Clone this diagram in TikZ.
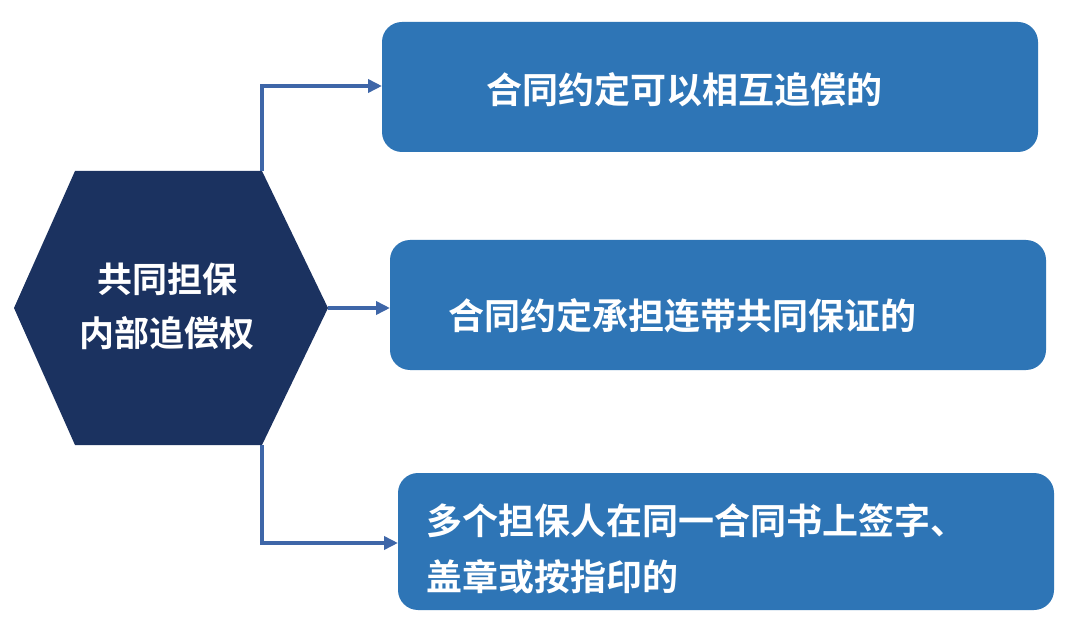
\documentclass[tikz,border=0pt]{standalone}
\usepackage{fontspec}
\newfontfamily\cjk[BoldFont={Noto Sans CJK SC Bold}]{Noto Sans CJK SC}
\usetikzlibrary{arrows.meta}
\definecolor{navy}{HTML}{1B3260}
\definecolor{boxb}{HTML}{2E75B6}
\definecolor{linec}{HTML}{3E66A8}
\begin{document}
\begin{tikzpicture}[x=1pt,y=-1pt,
  box/.style={fill=boxb,rounded corners=20pt,draw=none},
  txt/.style={text=white,font=\cjk\bfseries\fontsize{36}{56}\selectfont,anchor=west,align=left,inner sep=0pt},
  conn/.style={draw=linec,line width=3.5pt,-{Triangle[length=14pt,width=13pt]}}]
\useasboundingbox (0,0) rectangle (1080,631);
\fill[white] (0,0) rectangle (1080,631);
\fill[navy] (14,308) -- (75,171) -- (262,171) -- (328,308) -- (262,445) -- (75,445) -- cycle;
\coordinate (ht) at (262,171);
\coordinate (hr) at (328,308);
\coordinate (hb) at (262,445);
\node[text=white,font=\cjk\bfseries\fontsize{35}{54}\selectfont,align=center] (hex) at (167,306) {共同担保\\内部追偿权};
\fill[box] (382,22) rectangle (1038,152);
\fill[box] (390,240) rectangle (1046,370);
\fill[box] (398,473) rectangle (1054,610);
\coordinate (b1) at (382,86);
\coordinate (b2) at (390,308);
\coordinate (b3) at (398,543);
\node[txt] (t1) at (486,90) {合同约定可以相互追偿的};
\node[txt] (t2) at (448,316) {合同约定承担连带共同保证的};
\node[txt] (t3) at (426,549) {多个担保人在同一合同书上签字、\\盖章或按指印的};
\draw[conn] (ht) |- (b1);
\draw[conn] (hr) -- (b2);
\draw[conn] (hb) |- (b3);
\end{tikzpicture}
\end{document}
